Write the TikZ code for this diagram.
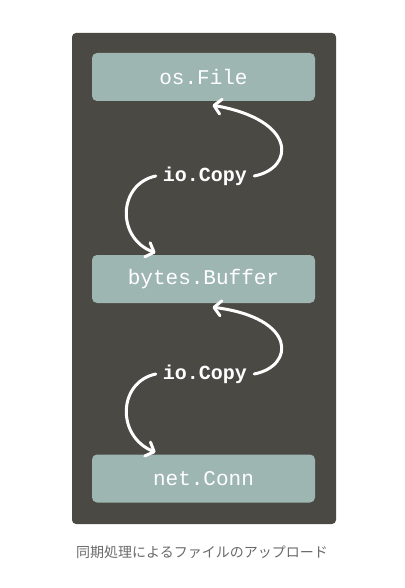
\documentclass[tikz,border=0pt]{standalone}
\usepackage{fontspec}
\setmonofont{Liberation Mono}
\newfontfamily\cjk{Noto Sans CJK JP}
\usetikzlibrary{arrows.meta,calc}
\definecolor{panel}{RGB}{75,73,67}
\definecolor{boxc}{RGB}{158,182,178}
\definecolor{capc}{RGB}{105,105,105}
\begin{document}
\begin{tikzpicture}[x=1pt,y=-1pt,
  boxnode/.style={fill=boxc,rounded corners=5pt,minimum width=223pt,minimum height=48pt,inner sep=0pt,
    text=white,font=\ttfamily\fontsize{21}{24}\selectfont},
  copylabel/.style={text=white,inner xsep=7pt,inner ysep=2pt,font=\ttfamily\bfseries\fontsize{20}{24}\selectfont},
  flow/.style={draw=white,line width=3pt,line cap=round,-{Straight Barb[length=7pt,width=15pt,line width=3pt,round]}}]
\useasboundingbox (0,0) rectangle (404,588);
\fill[panel,rounded corners=4pt] (72,33) rectangle (336,524);
\node[boxnode] (file) at (203.5,77) {os.File};
\node[boxnode] (buffer) at (203.5,279) {bytes.Buffer};
\node[boxnode] (conn) at (203.5,478.5) {net.Conn};
\node[copylabel] (copy1) at (205,176) {io.Copy};
\node[copylabel] (copy2) at (205,374) {io.Copy};
\draw[flow] (copy1.east) .. controls (295,168) and (297,120) .. ($(file.south)+(9,4)$);
\draw[flow] (copy1.west) .. controls (118,184) and (116,238) .. ($(buffer.north)+(-48,-2)$);
\draw[flow] (copy2.east) .. controls (295,366) and (297,318) .. ($(buffer.south)+(9,4)$);
\draw[flow] (copy2.west) .. controls (118,382) and (116,436) .. ($(conn.north)+(-48,-2)$);
\node[text=capc,font=\cjk\fontsize{14}{17}\selectfont] (cap) at (202,552) {同期処理によるファイルのアップロード};
\end{tikzpicture}
\end{document}
